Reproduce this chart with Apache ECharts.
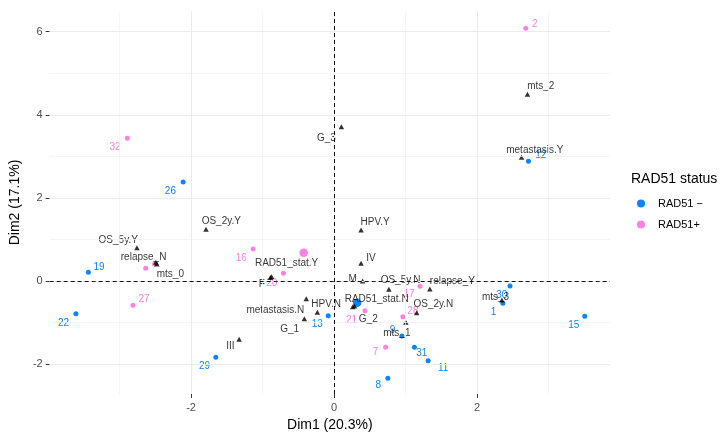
<!DOCTYPE html>
<html>
<head>
<meta charset="utf-8">
<script src="https://cdn.jsdelivr.net/npm/echarts@6/dist/echarts.min.js"></script>
<style>html,body{margin:0;padding:0;background:#fff;}#c{width:721px;height:437px;}</style>
</head>
<body>
<div id="c"></div>
<script>
// ---- axis ticks ----
const xTicks = [-2, 0, 2];
const yTicks = [-2, 0, 2, 4, 6];
const xMinor = [-3, -1, 1, 3];
const yMinor = [-1, 1, 3, 5];

// ---- individuals: RAD51 − ----
const negNames = ['26', '12', '19', '22', '29', '13', '9', '31', '11', '8', '30', '1', '15'];
const negX = [-2.111, 2.718, -3.436, -3.610, -1.654, -0.082, 0.948, 1.123, 1.315, 0.752, 2.460, 2.360, 3.505];
const negY = [2.383, 2.881, 0.209, -0.787, -1.836, -0.835, -1.324, -1.596, -1.918, -2.342, -0.120, -0.537, -0.850];

// ---- individuals: RAD51+ ----
const posNames = ['2', '32', '16', '27', '20', '', ' ', '17', '21', '28', '7'];
const posX = [2.680, -2.891, -1.131, -2.812, -0.709, -2.634, -2.510, 1.201, 0.432, 0.962, 0.720];
const posY = [6.082, 3.434, 0.770, -0.585, 0.185, 0.306, 0.409, -0.128, -0.715, -0.859, -1.596];

// ---- group mean points ----
const meanNeg = [0.322, -0.522];
const meanPos = [-0.426, 0.681];

// ---- qualitative variable categories ----
const varNames = ['mts_2', 'G_3', 'metastasis.Y', 'OS_5y.Y', 'relapse_N', 'mts_0', 'OS_2y.Y', 'RAD51_stat.Y', 'F',
  'metastasis.N', 'G_1', 'HPV.N', 'III', 'HPV.Y', 'IV', 'M', 'OS_5y.N', 'relapse_Y', 'OS_2y.N', 'RAD51_stat.N', 'G_2', 'mts_1', 'mts_3'];
const varX = [2.704, 0.102, 2.621, -2.757, -2.492, -2.478, -1.791, -0.874, -0.891,
  -0.389, -0.416, -0.234, -1.328, 0.377, 0.377, 0.399, 0.766, 1.339, 1.155, 0.261, 0.285, 1.003, 2.346];
const varY = [4.493, 3.714, 2.977, 0.801, 0.450, 0.409, 1.244, 0.103, 0.084,
  -0.426, -0.907, -0.753, -1.403, 1.227, 0.426, 0.000, -0.200, -0.193, -0.763, -0.619, -0.602, -0.994, -0.457];

// ---- label layout (pixel offsets of text from its mark) ----
const negOffsets = [[-12.7, 9], [12.3, -6], [10.7, -4.6], [-12.4, 9.6], [-11.3, 8.7], [-11, 8.6], [-9.3, -6], [7.3, 6], [15, 7.6], [-9.7, 6.7], [-8.3, 9], [-9.3, 9], [-11, 9.4]];
const posOffsets = [[9, -4.3], [-12.3, 9.4], [-12, 9.3], [11, -6.3], [-11.7, 10], [0, 0], [0, 0], [-11, 8], [-13.4, 9.3], [10, -5], [-10, 5.4]];
const varOffsets = [[13.3, -7.6], [-15, 11.6], [13.3, -6.6], [-18.7, -7.7], [-12.3, -5], [13.5, 10], [15.3, -7.6], [15, -13.4], [-8.5, 6.8],
  [-31, 11.3], [-14.7, 10.3], [8.7, -8.3], [-8.7, 7.4], [14, -8], [10, -5], [-10, -2], [11.7, -8.6], [22.5, -8], [16.7, -8.4], [23.9, -7.4], [13.8, 13.3], [-9, 11], [-6.3, -2.7]];

const BLUE = '#0a84ff';
const PINK = '#ff80e6';
const FONT = '"Liberation Sans", Arial, sans-serif';

function pts(names, xs, ys, offs, color) {
  return names.map((n, i) => ({
    name: n,
    value: [xs[i], ys[i]],
    label: {
      show: n.trim() !== '',
      position: 'inside',
      offset: offs[i],
      formatter: n,
      color: color,
      fontSize: 10,
      fontFamily: FONT
    }
  }));
}

const gridLines = []
  .concat(xMinor.map(v => ({ xAxis: v, lineStyle: { color: '#f0f0f0', width: 0.7, type: 'solid' } })))
  .concat(yMinor.map(v => ({ yAxis: v, lineStyle: { color: '#f0f0f0', width: 0.7, type: 'solid' } })))
  .concat(xTicks.map(v => ({ xAxis: v, lineStyle: { color: '#ebebeb', width: 1, type: 'solid' } })))
  .concat(yTicks.map(v => ({ yAxis: v, lineStyle: { color: '#ebebeb', width: 1, type: 'solid' } })));

const zeroLines = [
  { xAxis: 0, lineStyle: { color: '#111', width: 1, type: [4, 3] } },
  { yAxis: 0, lineStyle: { color: '#111', width: 1, type: [4, 3] } }
];

const chart = echarts.init(document.getElementById('c'), null, { renderer: 'canvas' });
chart.setOption({
  animation: false,
  backgroundColor: '#fff',
  textStyle: { fontFamily: FONT },
  title: {
    text: 'RAD51 status', left: 631, top: 172, padding: 0,
    textStyle: { fontSize: 14, fontWeight: 'normal', color: '#000', fontFamily: FONT }
  },
  legend: {
    orient: 'vertical', left: 637, top: 198, padding: 0,
    itemWidth: 24, itemHeight: 8, itemGap: 10,
    icon: 'circle',
    data: ['RAD51 −', 'RAD51+'],
    textStyle: { fontSize: 11, color: '#000', fontFamily: FONT, lineHeight: 8 },
    selectedMode: false
  },
  grid: { left: 40, right: 111, top: 11, bottom: 43, containLabel: false },
  xAxis: {
    type: 'value', min: -3.977, max: 3.858,
    splitLine: { show: false },
    axisLine: { show: false, onZero: false },
    axisTick: { show: true, customValues: xTicks, length: 4, lineStyle: { color: '#333', width: 1 } },
    axisLabel: { customValues: xTicks, color: '#4d4d4d', fontSize: 11, margin: 8, fontFamily: FONT },
    name: 'Dim1 (20.3%)', nameLocation: 'middle', nameGap: 20,
    nameTextStyle: { fontSize: 14, color: '#000', fontFamily: FONT }
  },
  yAxis: {
    type: 'value', min: -2.72, max: 6.498,
    splitLine: { show: false },
    axisLine: { show: false, onZero: false },
    axisTick: { show: true, customValues: yTicks, length: 4, lineStyle: { color: '#333', width: 1 } },
    axisLabel: { customValues: yTicks, color: '#4d4d4d', fontSize: 11, margin: 7, fontFamily: FONT },
    name: 'Dim2 (17.1%)', nameLocation: 'middle', nameGap: 18, nameRotate: 90,
    nameTextStyle: { fontSize: 14, color: '#000', fontFamily: FONT }
  },
  series: [
    {
      type: 'scatter', name: 'grid', data: [], z: 0, silent: true,
      markLine: { silent: true, symbol: ['none', 'none'], label: { show: false }, animation: false, data: gridLines }
    },
    {
      type: 'scatter', name: 'zero', data: [], z: 1, silent: true,
      markLine: { silent: true, symbol: ['none', 'none'], label: { show: false }, animation: false, data: zeroLines }
    },
    {
      type: 'scatter', name: 'RAD51 −', z: 3, symbol: 'circle', symbolSize: 5,
      itemStyle: { color: BLUE, opacity: 1 },
      data: pts(negNames, negX, negY, negOffsets, BLUE),
      emphasis: { disabled: true }
    },
    {
      type: 'scatter', name: 'RAD51+', z: 3, symbol: 'circle', symbolSize: 5,
      itemStyle: { color: PINK, opacity: 1 },
      data: pts(posNames, posX, posY, posOffsets, PINK),
      emphasis: { disabled: true }
    },
    {
      type: 'scatter', name: 'RAD51 −', z: 3, symbol: 'circle', symbolSize: 8.5,
      itemStyle: { color: BLUE, opacity: 1 },
      data: [meanNeg], emphasis: { disabled: true }
    },
    {
      type: 'scatter', name: 'RAD51+', z: 3, symbol: 'circle', symbolSize: 8.5,
      itemStyle: { color: PINK, opacity: 1 },
      data: [meanPos], emphasis: { disabled: true }
    },
    {
      type: 'scatter', name: 'vars', z: 4, symbol: 'triangle', symbolSize: [5.5, 5],
      itemStyle: { color: '#000' },
      data: pts(varNames, varX, varY, varOffsets, '#000'),
      emphasis: { disabled: true }
    }
  ]
});
</script>
</body>
</html>
